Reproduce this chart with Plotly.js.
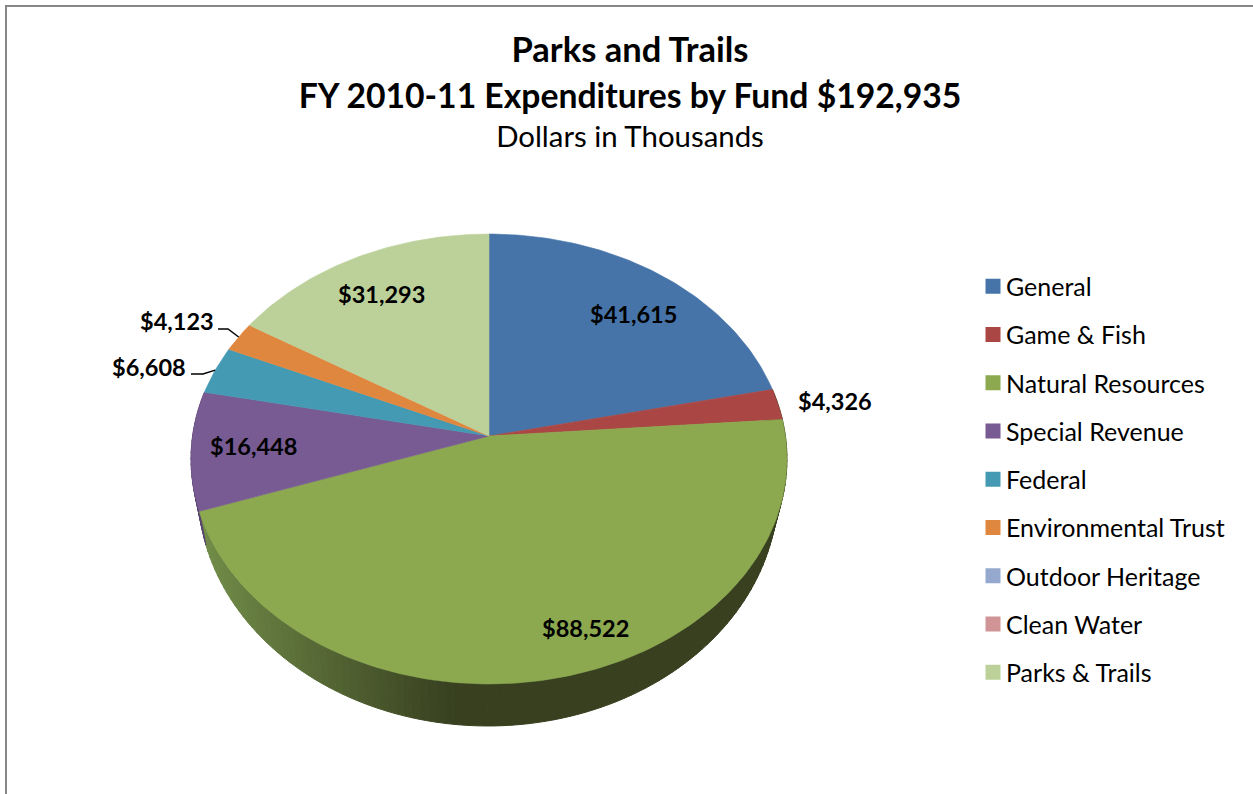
<!DOCTYPE html>
<html>
<head>
<meta charset="utf-8">
<script src="https://cdn.plot.ly/plotly-3.0.1.min.js"></script>
<style>html,body{margin:0;padding:0;background:#fff}#chart{width:1253px;height:794px}</style>
</head>
<body>
<div id="chart"></div>
<script>
const categories = ["General","Game & Fish","Natural Resources","Special Revenue","Federal","Environmental Trust","Outdoor Heritage","Clean Water","Parks & Trails"];
const values = [41615,4326,88522,16448,6608,4123,0,0,31293];
const sliceColors = ["#4674a9","#aa4643","#8ca94f","#775b92","#449ab3","#e0873f","#95a9cf","#d09496","#bcd19a"];
const rimColors = {"Special Revenue":"#5a4470"};
const rimLight = [113,140,72], rimDark = [56,64,32];
const labelCenters = {"General":[633,314],"Game & Fish":[835,401],"Natural Resources":[585,628],"Special Revenue":[253,446],"Federal":[149,367],"Environmental Trust":[177,321],"Parks & Trails":[381,294]};
const leaderStarts = {"Federal":[[191,374],[203,374]],"Environmental Trust":[[218,329],[228,329]]};
const FONT = "Lato, Carlito, sans-serif";

// tilted-disc projection: t = fraction of the full turn, clockwise from 12 o'clock
const K = 0.1022;
const topDisc = {x0:489, y0:436, a:296.4, b:222.6};
const lowDisc = {x0:488, y0:465.9, a:288.5, b:233.5};
function project(turn, d){
  const th = turn*2*Math.PI, u = Math.sin(th), v = -Math.cos(th), w = 1/(1-K*v);
  return [d.x0+d.a*u*w, d.y0+d.b*v*w];
}
const total = values.reduce((s,v)=>s+v,0);
const starts = []; let acc = 0;
values.forEach(v=>{starts.push(acc/total); acc+=v;});
const ends = values.map((v,i)=>starts[i]+v/total);

const traces = [];
// side wall, drawn first so the top face covers what is hidden
const STEP = 1/360;
categories.forEach((c,i)=>{
  if(!values[i]) return;
  if(c!=="Natural Resources" && c!=="Special Revenue" && c!=="Game & Fish") return;
  for(let t=starts[i]; t<ends[i]-1e-9; t+=STEP*1.5){
    const t2=Math.min(t+STEP*1.5,ends[i]);
    const a=project(t,topDisc), b=project(t2,topDisc), e=project(t2,lowDisc), f=project(t,lowDisc);
    let col;
    if(rimColors[c]) col=rimColors[c];
    else{
      const m=Math.min(1,Math.max(0,((a[0]+f[0])/2-205)/(455-205)));
      col="rgb("+rimLight.map((l,j)=>Math.round(l+(rimDark[j]-l)*m)).join(",")+")";
    }
    traces.push({type:"scatter",mode:"lines",x:[a[0],b[0],e[0],f[0],a[0]],y:[a[1],b[1],e[1],f[1],a[1]],fill:"toself",fillcolor:col,line:{color:col,width:1},showlegend:false,hoverinfo:"skip"});
  }
});
// top face slices
categories.forEach((c,i)=>{
  if(!values[i]) return;
  const xs=[topDisc.x0], ys=[topDisc.y0];
  const n=Math.max(2,Math.ceil((ends[i]-starts[i])/STEP));
  for(let k=0;k<=n;k++){
    const p=project(starts[i]+(ends[i]-starts[i])*k/n,topDisc);
    xs.push(p[0]); ys.push(p[1]);
  }
  xs.push(topDisc.x0); ys.push(topDisc.y0);
  traces.push({type:"scatter",mode:"lines",x:xs,y:ys,fill:"toself",fillcolor:sliceColors[i],line:{color:sliceColors[i],width:0.6},name:c,showlegend:false,hoverinfo:"name"});
});
// leader lines
Object.keys(leaderStarts).forEach(c=>{
  const i=categories.indexOf(c);
  const p=project((starts[i]+ends[i])/2,topDisc);
  const pts=leaderStarts[c].concat([p]);
  traces.push({type:"scatter",mode:"lines",x:pts.map(q=>q[0]),y:pts.map(q=>q[1]),line:{color:"#000",width:1.4},showlegend:false,hoverinfo:"skip"});
});
// legend entries
categories.forEach((c,i)=>{
  traces.push({type:"scatter",mode:"markers",x:[null],y:[null],name:c,legendgroup:c,marker:{symbol:"square",size:15,color:sliceColors[i]},showlegend:true,hoverinfo:"skip"});
});

const money = v=>"$"+v.toLocaleString("en-US");
const annotations = categories.filter((c,i)=>values[i]).map(c=>{
  const v=values[categories.indexOf(c)];
  return {x:labelCenters[c][0],y:labelCenters[c][1],xref:"x",yref:"y",text:"<b>"+money(v)+"</b>",showarrow:false,xanchor:"center",yanchor:"middle",font:{family:FONT,size:23.5,color:"#000"}};
});

const layout = {
  width:1253,height:794,
  margin:{l:0,r:0,t:0,b:0},
  paper_bgcolor:"#fff",plot_bgcolor:"#fff",
  title:{
    text:"<span style=\"font-size:34.5px\"><b>Parks and Trails</b></span><br><b>FY 2010-11 Expenditures by Fund "+money(total)+"</b><br><span style=\"font-size:29.4px\">Dollars in Thousands</span>",
    font:{family:FONT,size:33.7,color:"#000"},
    x:630/1253,xanchor:"center",xref:"paper",y:1-60/794,yanchor:"alphabetic"
  },
  xaxis:{range:[0,1253],visible:false,fixedrange:true},
  yaxis:{range:[794,0],visible:false,fixedrange:true},
  showlegend:true,
  legend:{x:973/1253,y:1-263.5/794,xanchor:"left",yanchor:"top",traceorder:"grouped",tracegroupgap:12.75,font:{family:FONT,size:25,color:"#000"},bgcolor:"rgba(0,0,0,0)",itemclick:false,itemdoubleclick:false},
  shapes:[{type:"path",xref:"x",yref:"y",path:"M6,794 L6,6 L1253,6",line:{color:"#868686",width:2}}],
  annotations:annotations
};
Plotly.newPlot("chart",traces,layout,{displayModeBar:false,staticPlot:true}).then(gd=>{
  const baselines=[62,108,147];
  gd.querySelectorAll(".gtitle tspan.line").forEach((t,i)=>{t.setAttribute("y",baselines[i]);t.setAttribute("dy","0");});
  gd.querySelectorAll(".legendtext").forEach(t=>{t.setAttribute("x",parseFloat(t.getAttribute("x"))-7);});
});
</script>
</body>
</html>
